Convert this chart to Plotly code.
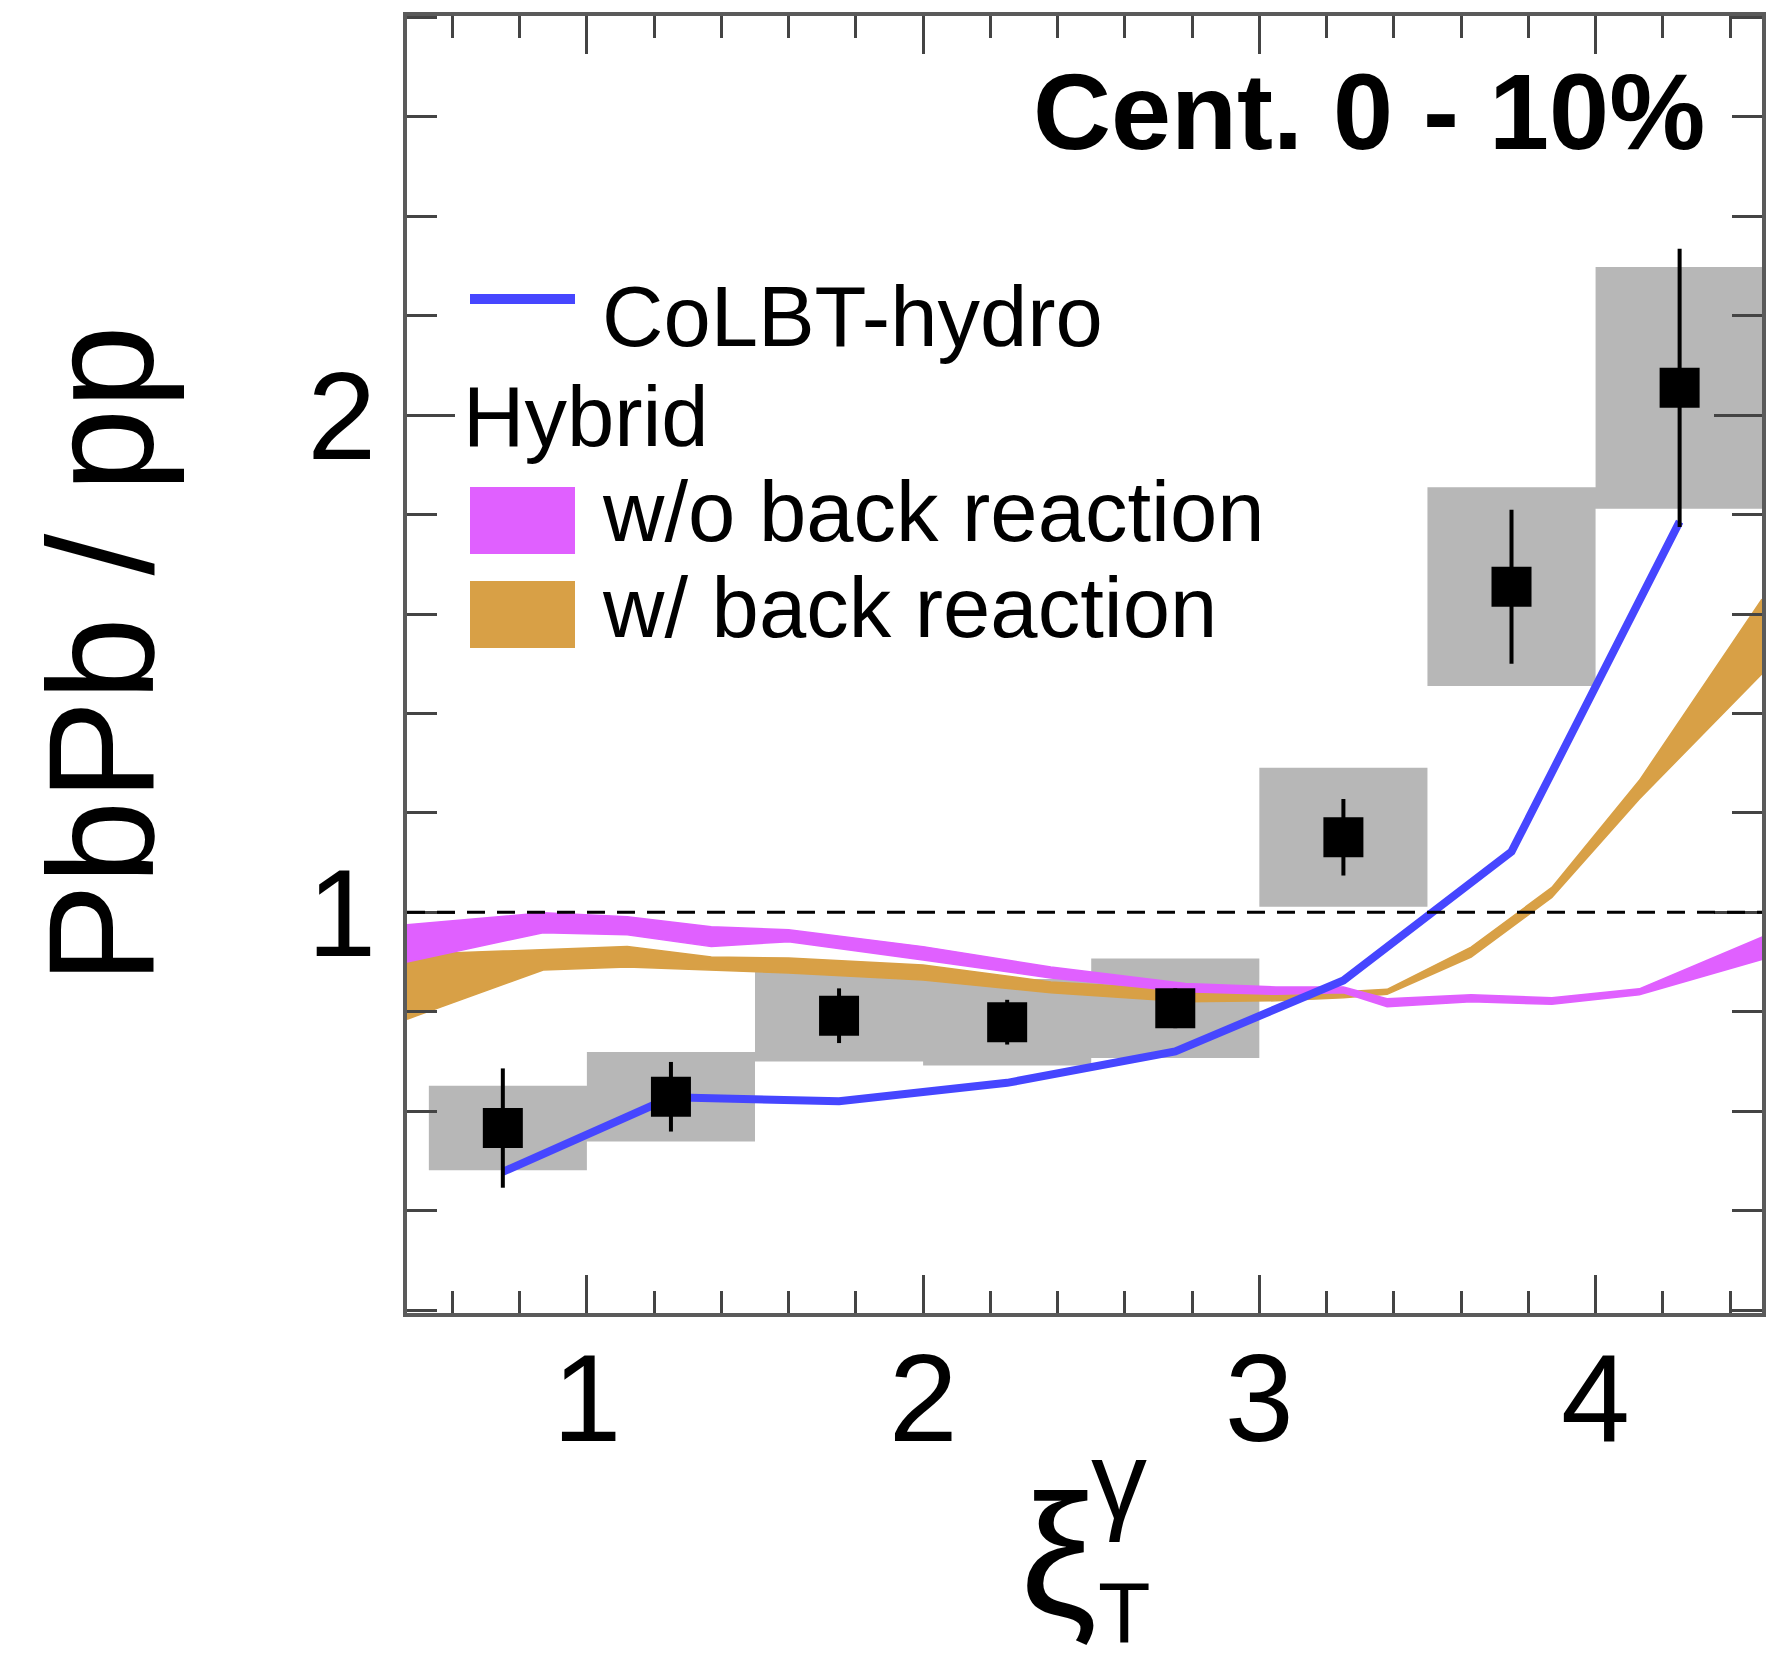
import plotly.graph_objects as go

# ---- measured ratio PbPb / pp in bins of xi_T^gamma ----
bin_center = [0.75, 1.25, 1.75, 2.25, 2.75, 3.25, 3.75, 4.25]
bin_lo = [0.53, 1.0, 1.5, 2.0, 2.5, 3.0, 3.5, 4.0]
bin_hi = [1.0, 1.5, 2.0, 2.5, 3.0, 3.5, 4.0, 4.5]
ratio = [0.566, 0.629, 0.792, 0.779, 0.807, 1.151, 1.655, 2.055]
stat_err = [0.12, 0.07, 0.055, 0.045, 0.04, 0.077, 0.155, 0.28]
sys_err = [0.085, 0.09, 0.092, 0.087, 0.10, 0.14, 0.20, 0.243]

# ---- CoLBT-hydro prediction ----
colbt_ratio = [0.478, 0.628, 0.620, 0.657, 0.720, 0.863, 1.122, 1.786]

# ---- Hybrid model bands ----
hyb_x = [0.465, 0.87, 1.12, 1.37, 1.6, 2.0, 2.38, 2.78, 3.05, 3.25, 3.38, 3.63, 3.87, 4.13, 4.495]
hyb_wo_hi = [0.975, 0.999, 0.991, 0.971, 0.965, 0.931, 0.890, 0.857, 0.850, 0.850, 0.826, 0.834, 0.828, 0.846, 0.950]
hyb_wo_lo = [0.900, 0.959, 0.955, 0.931, 0.941, 0.904, 0.868, 0.840, 0.835, 0.838, 0.810, 0.820, 0.815, 0.834, 0.905]
hyb_w_hi = [0.915, 0.924, 0.931, 0.910, 0.908, 0.894, 0.860, 0.844, 0.835, 0.840, 0.845, 0.930, 1.050, 1.265, 1.630]
hyb_w_lo = [0.785, 0.884, 0.890, 0.884, 0.878, 0.864, 0.838, 0.820, 0.822, 0.828, 0.835, 0.910, 1.030, 1.228, 1.480]

BLUE = "#4646ff"
MAGENTA = "#e060ff"
ORANGE = "#d8a046"
GREY = "#b7b7b7"
FONT = "Liberation Sans, Arial, sans-serif"

W, H = 1784, 1664
L, R, T, B = 407, 1762, 16, 1313  # plot frame in pixels


def px(xp):
    return (xp - L) / (R - L)


def py(yp):
    return (B - yp) / (B - T)


fig = go.Figure()

# systematic uncertainty boxes
bx, by = [], []
for lo, hi, v, s in zip(bin_lo, bin_hi, ratio, sys_err):
    bx += [lo, hi, hi, lo, lo, None]
    by += [v - s, v - s, v + s, v + s, v - s, None]
fig.add_trace(go.Scatter(x=bx, y=by, mode="lines", fill="toself", fillcolor=GREY,
                         line=dict(width=0, color=GREY), hoverinfo="skip"))

# hybrid bands
fig.add_trace(go.Scatter(x=hyb_x + hyb_x[::-1], y=hyb_w_hi + hyb_w_lo[::-1],
                         mode="lines", fill="toself", fillcolor=ORANGE,
                         line=dict(width=1.5, color=ORANGE), hoverinfo="skip"))
fig.add_trace(go.Scatter(x=hyb_x + hyb_x[::-1], y=hyb_wo_hi + hyb_wo_lo[::-1],
                         mode="lines", fill="toself", fillcolor=MAGENTA,
                         line=dict(width=1.5, color=MAGENTA), hoverinfo="skip"))

# CoLBT-hydro curve
fig.add_trace(go.Scatter(x=bin_center, y=colbt_ratio, mode="lines",
                         line=dict(color=BLUE, width=8)))

# data points with statistical errors
fig.add_trace(go.Scatter(x=bin_center, y=ratio, mode="markers",
                         marker=dict(symbol="square", size=40, color="black"),
                         error_y=dict(type="data", array=stat_err, color="black",
                                      thickness=4, width=0)))

# unity reference line
fig.add_shape(type="line", xref="paper", yref="y", x0=0, x1=1, y0=1, y1=1,
              line=dict(color="black", width=3, dash="18px,12px"), layer="above")

# legend keys
fig.add_shape(type="line", xref="paper", yref="paper", x0=px(470), x1=px(575),
              y0=py(299), y1=py(299), line=dict(color=BLUE, width=10))
fig.add_shape(type="rect", xref="paper", yref="paper", x0=px(470), x1=px(575),
              y0=py(554), y1=py(487), fillcolor=MAGENTA, line=dict(width=0))
fig.add_shape(type="rect", xref="paper", yref="paper", x0=px(470), x1=px(575),
              y0=py(648), y1=py(581), fillcolor=ORANGE, line=dict(width=0))

legend_text = [
    ("CoLBT-hydro", 600, 316),
    ("Hybrid", 461, 416),
    ("w/o back reaction", 600, 512),
    ("w/ back reaction", 600, 607),
]
for txt, xp, yp in legend_text:
    fig.add_annotation(text=txt, xref="paper", yref="paper", x=px(xp), y=py(yp),
                       xanchor="left", yanchor="middle", showarrow=False,
                       font=dict(family=FONT, size=85, color="black"))

# centrality label
fig.add_annotation(text="<b>Cent. 0 - 10%</b>", xref="paper", yref="paper",
                   x=px(1707), y=py(111), xanchor="right", yanchor="middle",
                   showarrow=False, font=dict(family=FONT, size=108, color="black"))

# axis titles
fig.add_annotation(text="PbPb / pp", xref="paper", yref="paper", x=px(101), y=py(655),
                   xanchor="center", yanchor="middle", textangle=-90, showarrow=False,
                   font=dict(family=FONT, size=150, color="black"))
fig.add_annotation(text="ξ", xref="paper", yref="paper", x=px(1058), y=py(1555),
                   xanchor="center", yanchor="middle", showarrow=False,
                   font=dict(family=FONT, size=172, color="black"))
fig.add_annotation(text="γ", xref="paper", yref="paper", x=px(1119), y=py(1480),
                   xanchor="center", yanchor="middle", showarrow=False,
                   font=dict(family=FONT, size=112, color="black"))
fig.add_annotation(text="T", xref="paper", yref="paper", x=px(1124), y=py(1662),
                   xanchor="center", yanchor="bottom", showarrow=False,
                   font=dict(family=FONT, size=86, color="black"))

axis_common = dict(
    ticks="inside", tickcolor="#444", tickwidth=3, showline=True, linecolor="#5a5a5a",
    linewidth=4, mirror="allticks", showgrid=False, zeroline=False,
    tickfont=dict(family=FONT, size=124, color="black"),
)
fig.update_xaxes(range=[0.465, 4.495], dtick=1, tick0=0, ticklen=38,
                 ticklabelstandoff=-25,
                 minor=dict(dtick=0.2, tick0=0, ticks="inside", ticklen=22,
                            tickwidth=3, tickcolor="#444"),
                 **axis_common)
fig.update_yaxes(range=[0.194, 2.803], dtick=1, tick0=0, ticklen=48,
                 ticklabelstandoff=2,
                 minor=dict(dtick=0.2, tick0=0, ticks="inside", ticklen=30,
                            tickwidth=3, tickcolor="#444"),
                 **axis_common)

fig.update_layout(width=W, height=H, showlegend=False,
                  margin=dict(l=L, r=W - R, t=T, b=H - B),
                  paper_bgcolor="white", plot_bgcolor="white")

fig.write_html("out.html")
